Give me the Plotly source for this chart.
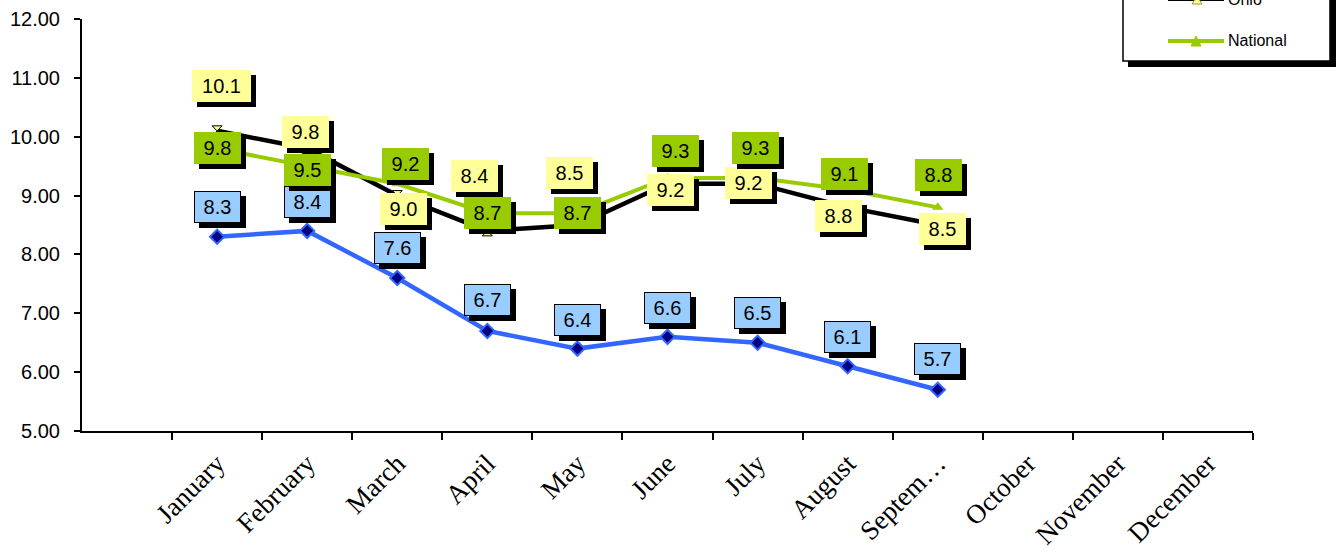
import plotly.graph_objects as go

# ---- data ----
months = ["January", "February", "March", "April", "May", "June",
          "July", "August", "Septem…", "October", "November", "December"]
county = [8.3, 8.4, 7.6, 6.7, 6.4, 6.6, 6.5, 6.1, 5.7]
ohio = [10.1, 9.8, 9.0, 8.4, 8.5, 9.2, 9.2, 8.8, 8.5]
national = [9.8, 9.5, 9.2, 8.7, 8.7, 9.3, 9.3, 9.1, 8.8]
y_ticks = [5, 6, 7, 8, 9, 10, 11, 12]

# ---- label placement (pixel offsets from each point) ----
county_dx = [0, 0, 0, 0, 0, 0, 0, 0, 0]
county_dy = [30, 29, 30, 31, 29, 29, 30, 29, 31]
ohio_dx = [4, -2, 6, -13, -8, 3, -9, -9, 5]
ohio_dy = [45, 16, -13, 55, 52, -6, 1, -9, -4]
nat_dx = [0, 0, 8, 0, 0, 8, -2, -3, 1]
nat_dy = [0, -4, 20, 0, 0, 27, 30, 16, 32]

BLUE = "#3366FF"
NAVY = "#000080"
GREEN = "#99CC00"
YELLOW = "#FFFF99"
LBLUE = "#99CCFF"
SANS = "Liberation Sans, Arial, sans-serif"
SERIF = "Liberation Serif, Times New Roman, serif"

W, H = 1340, 552
L, R, T, B = 82, 1253, 19, 431

fig = go.Figure()

xs = list(range(len(county)))
fig.add_trace(go.Scatter(
    x=xs, y=county, mode="lines+markers", name="County",
    line=dict(color=BLUE, width=4.5),
    marker=dict(symbol="diamond", size=11, color=NAVY,
                line=dict(color=BLUE, width=2)),
    showlegend=False, hoverinfo="skip"))
fig.add_trace(go.Scatter(
    x=xs, y=ohio, mode="lines+markers", name="Ohio",
    line=dict(color="black", width=4.5),
    marker=dict(symbol="hourglass", size=10, color=YELLOW,
                line=dict(color="black", width=1)),
    showlegend=False, hoverinfo="skip"))
fig.add_trace(go.Scatter(
    x=xs, y=national, mode="lines+markers", name="National",
    line=dict(color=GREEN, width=4),
    marker=dict(symbol="triangle-up", size=10, color=GREEN),
    showlegend=False, hoverinfo="skip"))

annotations = []


def add_labels(values, dxs, dys, fill, border):
    for i, (v, dx, dy) in enumerate(zip(values, dxs, dys)):
        txt = f"{v:.1f}"
        w = 59 if len(txt) > 3 else 47
        bw = 1 if border else 0
        common = dict(x=i, y=v, xref="x", yref="y", text=txt,
                      showarrow=False, width=w - 2 * bw, height=32 - 2 * bw,
                      borderpad=0, align="center", valign="middle",
                      font=dict(family=SANS, size=20, color="black"))
        # drop shadow
        annotations.append(dict(common, xshift=dx + 5, yshift=dy - 5,
                                bgcolor="black", borderwidth=bw,
                                bordercolor="black"))
        annotations.append(dict(common, xshift=dx, yshift=dy,
                                bgcolor=fill, borderwidth=bw,
                                bordercolor="black"))


add_labels(county, county_dx, county_dy, LBLUE, True)
add_labels(ohio, ohio_dx, ohio_dy, YELLOW, False)
add_labels(national, nat_dx, nat_dy, GREEN, False)


# ---- legend (pixel positions converted to paper units) ----
def px(x):
    return (x - L) / (R - L)


def py(y):
    return (B - y) / (B - T)


shapes = []
shapes.append(dict(type="rect", xref="paper", yref="paper",
                   x0=px(1128), x1=px(1336), y0=py(67), y1=py(-80),
                   fillcolor="black", line=dict(width=0), layer="above"))
shapes.append(dict(type="rect", xref="paper", yref="paper",
                   x0=px(1123), x1=px(1330), y0=py(61), y1=py(-85),
                   fillcolor="white", line=dict(color="black", width=1.5),
                   layer="above"))

legend_items = [("Ohio", "black", -1), ("National", GREEN, 41)]
for name, color, yy in legend_items:
    shapes.append(dict(type="line", xref="paper", yref="paper",
                       x0=px(1168), x1=px(1224), y0=py(yy), y1=py(yy),
                       line=dict(color=color, width=4), layer="above"))
    annotations.append(dict(x=px(1226), y=py(yy), xref="paper", yref="paper",
                            text=name, showarrow=False, xanchor="left",
                            yanchor="middle",
                            font=dict(family=SANS, size=16, color="black")))

# legend marker glyphs
shapes.append(dict(type="path", xref="paper", yref="paper",
                   path=f"M {px(1191)},{py(46)} L {px(1201)},{py(46)} "
                        f"L {px(1196)},{py(36)} Z",
                   fillcolor=GREEN, line=dict(color=GREEN, width=1),
                   layer="above"))
shapes.append(dict(type="path", xref="paper", yref="paper",
                   path=f"M {px(1192)},{py(4)} L {px(1202)},{py(4)} "
                        f"L {px(1197)},{py(-4)} Z",
                   fillcolor=YELLOW, line=dict(color="#999933", width=1),
                   layer="above"))

fig.update_layout(
    width=W, height=H,
    margin=dict(l=L, r=W - R, t=T, b=H - B, autoexpand=False),
    plot_bgcolor="white", paper_bgcolor="white",
    showlegend=False,
    annotations=annotations,
    shapes=shapes,
)

fig.update_xaxes(
    range=[-1.5, 11.5],
    tickmode="array", tickvals=list(range(len(months))), ticktext=months,
    tickangle=-45, ticks="", showgrid=False, zeroline=False,
    showline=True, linecolor="black", linewidth=2,
    tickfont=dict(family=SERIF, size=27, color="black"),
    ticklabelstandoff=4,
    minor=dict(tickmode="array",
               tickvals=[i - 0.5 for i in range(len(months) + 1)],
               ticks="outside", ticklen=7, tickwidth=2, tickcolor="black",
               showgrid=False),
)
fig.update_yaxes(
    range=[5, 12], tickmode="array", tickvals=y_ticks,
    ticktext=[f"{v:.2f}" for v in y_ticks],
    ticks="outside", ticklen=6, tickwidth=2, tickcolor="black",
    showgrid=False, zeroline=False,
    showline=True, linecolor="black", linewidth=2,
    tickfont=dict(family=SANS, size=20, color="black"),
    ticklabelstandoff=10,
)

fig.write_html("out.html")
